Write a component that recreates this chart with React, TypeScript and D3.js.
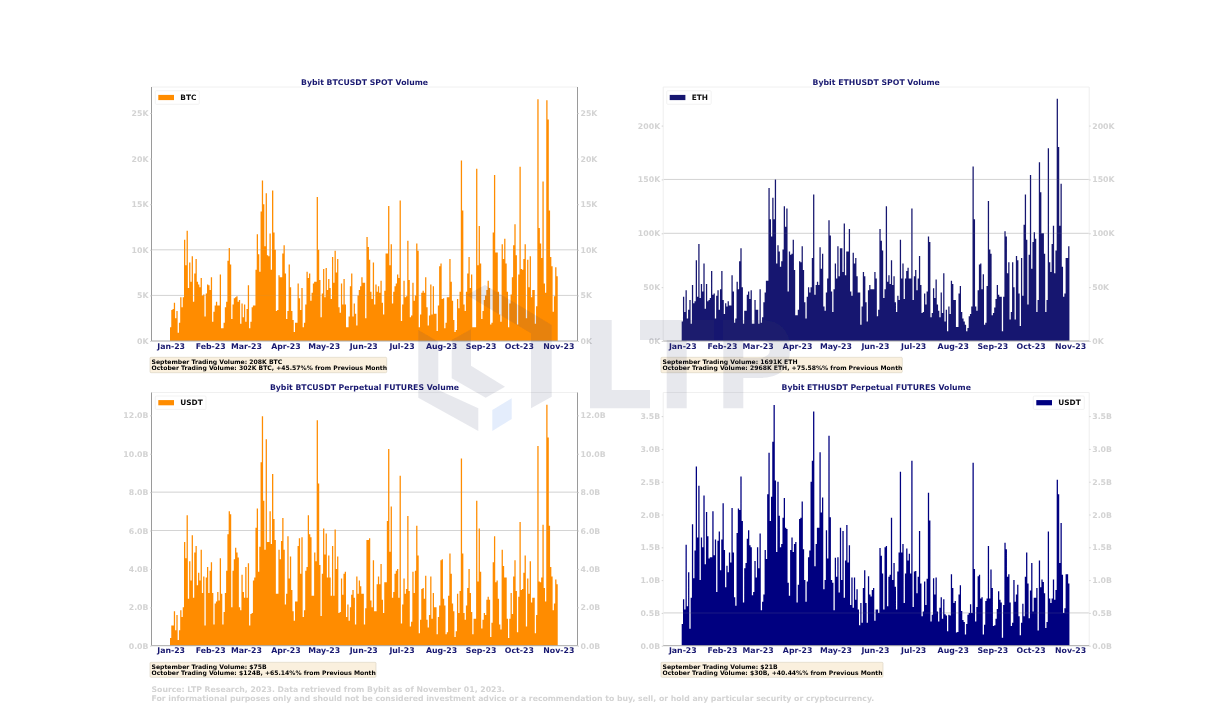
import React, { useEffect, useRef } from 'react';
import * as d3 from 'd3';

// daily volumes from 2023-01-01, ten days per row
const btcSpot = [
  1.5, 3.4, 3.5, 4.2, 2.5, 3.3, 0.9, 2.0, 4.8, 3.7,
  4.8, 11.1, 8.3, 12.1, 5.8, 8.6, 6.5, 9.3, 4.3, 7.4,
  9.0, 6.5, 6.2, 5.9, 6.9, 5.0, 5.1, 2.7, 5.2, 6.2,
  6.1, 5.6, 7.0, 2.1, 3.2, 3.9, 4.3, 3.9, 3.9, 7.3,
  1.4, 1.4, 2.0, 3.7, 4.3, 8.8, 10.2, 8.4, 2.4, 4.0,
  4.7, 4.8, 4.9, 4.3, 4.5, 1.9, 4.1, 2.6, 4.0, 2.1,
  3.5, 6.1, 1.4, 2.1, 3.7, 3.9, 3.9, 7.8, 11.7, 9.5,
  7.6, 14.2, 17.6, 15.0, 10.4, 16.2, 9.4, 9.3, 11.8, 7.8,
  16.5, 11.9, 10.0, 3.3, 3.4, 7.2, 7.0, 7.0, 9.6, 10.5,
  7.4, 2.4, 3.3, 8.4, 5.9, 3.3, 2.3, 1.0, 2.0, 2.0,
  6.3, 4.7, 3.4, 5.8, 1.5, 2.0, 4.0, 7.6, 6.9, 7.4,
  4.4, 5.3, 6.3, 6.5, 6.5, 15.8, 10.0, 6.7, 2.6, 5.2,
  7.9, 4.8, 8.0, 5.6, 6.8, 5.8, 4.6, 9.2, 6.4, 9.9,
  7.5, 9.0, 3.7, 3.1, 6.3, 4.0, 6.8, 4.0, 1.5, 1.5,
  2.7, 6.0, 7.4, 2.7, 4.1, 3.0, 1.7, 5.0, 5.6, 6.0,
  7.0, 6.4, 6.4, 2.5, 11.4, 10.3, 8.9, 5.4, 4.6, 8.6,
  4.0, 6.2, 5.4, 6.0, 5.3, 6.6, 4.2, 2.9, 5.5, 9.6,
  9.6, 14.8, 8.3, 10.6, 4.1, 5.4, 6.0, 6.3, 7.3, 6.9,
  15.4, 2.2, 4.0, 6.6, 4.8, 4.9, 11.0, 6.7, 2.6, 2.8,
  6.4, 4.4, 5.0, 10.7, 9.9, 1.5, 2.9, 5.3, 5.5, 5.3,
  7.0, 3.7, 1.7, 2.8, 6.2, 2.9, 6.0, 3.0, 3.0, 1.1,
  3.9, 8.2, 8.5, 4.6, 4.7, 1.4, 2.0, 4.8, 4.8, 9.0,
  6.5, 4.4, 2.3, 1.0, 1.2, 4.6, 3.6, 5.4, 19.8, 14.3,
  4.0, 3.3, 5.4, 7.4, 9.2, 5.8, 7.3, 1.5, 1.5, 1.5,
  18.9, 8.3, 12.6, 8.5, 2.4, 3.3, 4.5, 5.0, 5.6, 6.6,
  5.8, 1.8, 2.0, 11.9, 18.2, 9.7, 9.7, 5.4, 2.9, 2.1,
  10.6, 9.0, 11.2, 8.5, 5.4, 1.5, 4.1, 5.1, 7.0, 10.5,
  12.8, 9.4, 1.8, 7.3, 19.1, 7.9, 7.8, 9.0, 10.6, 2.5,
  8.9, 5.9, 9.3, 4.8, 5.6, 5.6, 1.9, 3.8, 26.5, 12.4,
  10.7, 9.1, 17.5, 6.3, 5.3, 26.4, 24.3, 14.3, 9.2, 8.2,
  3.2, 4.9, 8.1, 7.1,
];

const ethSpot = [
  18, 41, 27, 47, 21, 29, 38, 16, 52, 35,
  37, 75, 41, 90, 40, 53, 46, 72, 30, 53,
  37, 38, 40, 65, 43, 44, 21, 42, 47, 29,
  48, 65, 38, 25, 35, 32, 37, 33, 33, 61,
  46, 17, 21, 55, 48, 74, 86, 50, 16, 28,
  28, 43, 46, 39, 47, 16, 16, 38, 29, 29,
  16, 48, 17, 22, 36, 45, 56, 56, 142, 113,
  97, 133, 113, 150, 72, 89, 83, 69, 74, 85,
  125, 106, 123, 46, 83, 80, 81, 94, 66, 24,
  24, 29, 74, 73, 88, 66, 36, 21, 41, 50,
  45, 50, 77, 136, 43, 52, 55, 52, 87, 67,
  81, 32, 28, 45, 58, 112, 98, 46, 27, 48,
  72, 58, 88, 60, 86, 86, 64, 109, 61, 83,
  83, 104, 46, 42, 82, 72, 77, 60, 45, 45,
  15, 32, 64, 60, 36, 18, 47, 52, 48, 48,
  48, 64, 58, 23, 29, 104, 93, 84, 40, 48,
  125, 55, 61, 53, 75, 52, 60, 36, 27, 42,
  38, 94, 58, 72, 39, 58, 65, 68, 58, 58,
  123, 38, 60, 66, 47, 58, 79, 52, 26, 27,
  44, 34, 46, 97, 92, 22, 26, 49, 40, 57,
  34, 28, 22, 45, 26, 63, 18, 29, 9, 32,
  25, 56, 53, 38, 38, 13, 13, 44, 51, 27,
  21, 18, 15, 9, 12, 23, 25, 32, 162, 113,
  32, 28, 47, 71, 72, 48, 62, 15, 17, 51,
  130, 85, 81, 24, 26, 31, 39, 52, 43, 41,
  41, 9, 41, 102, 97, 63, 73, 20, 27, 73,
  50, 20, 79, 75, 44, 14, 77, 42, 108, 136,
  94, 34, 80, 154, 67, 92, 101, 95, 27, 38,
  166, 138, 100, 100, 81, 27, 38, 179, 73, 64,
  90, 107, 63, 84, 225, 180, 107, 146, 69, 41,
  44, 77, 77, 88,
];

const btcFutures = [
  0.4, 1.05, 1.05, 1.8, 0.8, 1.6, 0.3, 0.8, 1.85, 1.5,
  2.0, 5.4, 4.55, 6.8, 2.45, 4.4, 3.4, 5.75, 2.5, 4.85,
  5.2, 3.15, 3.8, 3.4, 5.0, 2.75, 3.6, 1.05, 3.55, 4.1,
  2.75, 3.9, 4.35, 2.75, 1.1, 2.2, 2.3, 2.8, 2.35, 4.55,
  2.7, 1.1, 1.75, 2.75, 3.9, 5.8, 7.0, 6.85, 2.0, 3.9,
  4.5, 5.1, 4.85, 4.6, 2.0, 1.85, 3.7, 2.8, 2.5, 4.1,
  2.5, 4.3, 1.05, 1.65, 1.7, 3.4, 3.55, 6.15, 7.15, 3.85,
  5.15, 9.55, 11.95, 7.55, 5.0, 10.75, 5.4, 5.4, 7.0, 5.3,
  8.95, 6.6, 5.5, 2.7, 2.7, 5.0, 4.5, 5.45, 6.65, 5.0,
  2.15, 2.7, 5.7, 3.5, 4.65, 2.9, 1.8, 1.3, 2.3, 2.3,
  5.2, 5.6, 3.75, 5.65, 1.5, 1.85, 3.9, 4.1, 6.8, 5.8,
  5.65, 2.6, 2.6, 4.85, 4.4, 11.75, 8.45, 4.2, 1.55, 3.75,
  6.1, 4.75, 5.85, 3.55, 4.7, 3.55, 2.6, 5.2, 2.6, 6.05,
  4.0, 4.65, 1.7, 1.75, 3.5, 2.65, 3.75, 3.85, 1.5, 2.15,
  1.3, 2.0, 2.65, 2.9, 2.5, 1.1, 3.6, 2.7, 3.4, 3.1,
  2.7, 2.7, 1.1, 1.95, 5.5, 5.5, 5.6, 2.35, 2.0, 4.45,
  1.8, 1.8, 3.2, 3.6, 3.2, 4.25, 2.4, 1.7, 3.3, 3.3,
  6.5, 10.25, 4.9, 7.25, 2.5, 2.8, 3.75, 3.9, 4.0, 2.5,
  8.85, 1.15, 2.15, 3.5, 2.7, 2.95, 6.75, 2.85, 1.0, 1.25,
  3.85, 2.75, 3.9, 6.25, 4.7, 0.65, 1.35, 2.95, 3.0, 2.45,
  3.65, 1.35, 0.95, 1.6, 3.6, 1.4, 2.75, 2.0, 2.0, 0.6,
  1.5, 2.1, 4.45, 4.5, 2.45, 2.1, 0.6, 0.7, 2.6, 4.8,
  3.75, 2.2, 1.8, 0.45, 0.75, 2.7, 1.7, 2.85, 9.75, 4.8,
  1.7, 1.35, 2.1, 3.0, 4.0, 2.75, 1.75, 0.6, 1.4, 1.4,
  7.55, 3.35, 6.1, 3.85, 0.9, 1.35, 1.7, 1.6, 2.4, 2.55,
  2.4, 0.45, 1.2, 4.35, 5.7, 3.3, 3.4, 2.45, 1.1, 0.85,
  5.0, 4.15, 3.55, 3.55, 1.4, 0.4, 1.4, 2.75, 1.65, 3.6,
  4.45, 2.85, 0.7, 2.55, 6.45, 2.9, 2.95, 3.8, 4.7, 1.0,
  3.5, 2.7, 4.4, 2.25, 2.5, 2.5, 0.65, 1.6, 10.4, 3.35,
  3.3, 3.55, 6.3, 3.0, 2.3, 12.55, 10.85, 6.25, 4.1, 3.6,
  1.85, 2.2, 3.45, 3.2,
];

const ethFutures = [
  0.33, 0.71, 0.55, 1.54, 0.6, 1.12, 0.26, 0.73, 1.85, 1.03,
  1.45, 2.73, 1.65, 2.44, 1.0, 1.65, 1.5, 2.29, 1.24, 2.04,
  1.67, 1.33, 1.35, 1.35, 2.05, 1.38, 1.62, 0.82, 1.6, 1.74,
  1.15, 1.62, 2.17, 1.46, 0.89, 1.22, 1.12, 1.42, 1.27, 2.1,
  1.42, 0.74, 0.61, 1.72, 2.09, 2.07, 2.58, 1.9, 0.66, 1.18,
  1.26, 1.63, 1.76, 1.53, 1.5, 0.77, 0.82, 1.29, 1.04, 1.5,
  1.18, 1.71, 0.54, 0.67, 0.78, 1.46, 1.32, 2.31, 2.94, 1.9,
  2.27, 3.11, 3.67, 2.52, 1.43, 2.5, 1.98, 1.5, 1.55, 1.95,
  2.25, 1.8, 1.78, 0.96, 0.76, 1.46, 1.65, 1.43, 1.55, 1.58,
  0.66, 0.93, 1.93, 1.95, 2.2, 1.47, 1.0, 0.67, 0.98, 1.35,
  1.45, 2.5, 2.82, 3.57, 1.21, 1.55, 1.8, 1.8, 2.95, 2.03,
  2.26, 0.86, 1.0, 1.76, 1.33, 3.2, 1.96, 1.0, 0.96, 0.54,
  1.34, 1.05, 1.35, 0.81, 1.8, 1.0, 1.75, 0.73, 1.3, 1.84,
  1.27, 1.53, 0.62, 1.04, 0.58, 1.04, 0.7, 0.86, 0.55, 0.31,
  0.65, 0.35, 0.88, 1.15, 0.65, 0.35, 1.06, 0.78, 0.75, 0.85,
  0.88, 0.38, 0.55, 0.55, 0.5, 1.49, 1.37, 1.1, 0.55, 1.5,
  1.52, 0.6, 1.05, 1.08, 1.95, 1.0, 1.26, 0.9, 0.55, 1.13,
  1.42, 2.65, 1.42, 1.55, 0.65, 1.1, 1.48, 1.3, 1.4, 1.1,
  2.82, 0.59, 1.13, 1.14, 0.8, 1.05, 1.75, 0.95, 0.45, 0.52,
  0.98, 0.62, 1.02, 2.33, 1.91, 0.37, 0.47, 1.03, 0.78, 1.04,
  0.52, 0.37, 0.58, 0.74, 0.41, 0.71, 0.48, 0.46, 0.22, 0.47,
  0.46, 1.09, 0.88, 0.65, 0.68, 0.2, 0.21, 0.78, 0.92, 0.53,
  0.39, 0.36, 0.17, 0.33, 0.47, 0.5, 0.63, 0.5, 2.79, 1.17,
  0.37, 0.59, 1.06, 1.08, 0.72, 0.74, 0.17, 0.32, 0.68, 0.72,
  1.52, 0.72, 1.16, 0.88, 0.3, 0.31, 0.41, 0.56, 0.83, 0.7,
  0.66, 0.12, 0.62, 1.57, 1.47, 1.05, 1.09, 0.66, 0.3, 0.35,
  1.0, 0.67, 0.78, 0.93, 0.45, 0.16, 0.35, 0.64, 0.45, 1.05,
  1.42, 0.95, 0.42, 0.84, 1.26, 0.52, 0.73, 0.73, 0.88, 0.23,
  1.3, 0.89, 1.01, 0.97, 0.8, 0.27, 0.36, 1.74, 0.72, 0.65,
  0.72, 1.01, 0.7, 0.85, 2.53, 2.31, 1.26, 1.87, 1.08, 0.5,
  0.57, 1.09, 1.09, 0.95,
];

const btcSpotTicks = [0, 5, 10, 15, 20, 25];
const ethSpotTicks = [0, 50, 100, 150, 200];
const btcFuturesTicks = [0, 2, 4, 6, 8, 10, 12];
const ethFuturesTicks = [0, 0.5, 1, 1.5, 2, 2.5, 3, 3.5];

const sourceLines = [
  'Source: LTP Research, 2023. Data retrieved from Bybit as of November 01, 2023.',
  'For informational purposes only and should not be considered investment advice or a recommendation to buy, sell, or hold any particular security or cryptocurrency.',
];

const FONT = '"DejaVu Sans", sans-serif';
const firstDay = new Date(2023, 0, 1);

const panels = [
  {
    title: 'Bybit BTCUSDT SPOT Volume', values: btcSpot, ticks: btcSpotTicks, grid: [5, 10],
    fmt: (v: number) => `${v}K`, color: '#ff8c00', legend: 'BTC',
    left: 151.5, top: 87, bottom: 341, yMax: 27.85, spine: '#9a9a9a',
    legendBox: [155.3, 90.7, 44, 13.6],
    noteBox: [150, 357.3, 236.7, 15.4],
    notes: ['September Trading Volume: 208K BTC', 'October Trading Volume: 302K BTC, +45.57%% from Previous Month'],
  },
  {
    title: 'Bybit ETHUSDT SPOT Volume', values: ethSpot, ticks: ethSpotTicks, grid: [100, 150],
    fmt: (v: number) => `${v}K`, color: '#191970', legend: 'ETH',
    left: 663.2, top: 87, bottom: 341, yMax: 235.8, spine: '#eeeeee',
    legendBox: [666.7, 90.7, 44.5, 13.6],
    noteBox: [661, 357.3, 241.3, 15.4],
    notes: ['September Trading Volume: 1691K ETH', 'October Trading Volume: 2968K ETH, +75.58%% from Previous Month'],
  },
  {
    title: 'Bybit BTCUSDT Perpetual FUTURES Volume', values: btcFutures, ticks: btcFuturesTicks, grid: [6, 8],
    fmt: (v: number) => `${v.toFixed(1)}B`, color: '#ff8c00', legend: 'USDT',
    left: 151.5, top: 392.5, bottom: 645.7, yMax: 13.19, spine: '#9a9a9a',
    legendBox: [155.3, 396, 50.7, 13.4],
    noteBox: [150, 662.3, 226, 15],
    notes: ['September Trading Volume: $75B', 'October Trading Volume: $124B, +65.14%% from Previous Month'],
  },
  {
    title: 'Bybit ETHUSDT Perpetual FUTURES Volume', values: ethFutures, ticks: ethFuturesTicks, grid: [0.5],
    fmt: (v: number) => `${v.toFixed(1)}B`, color: '#000080', legend: 'USDT',
    left: 663.2, top: 392.5, bottom: 645.7, yMax: 3.86, spine: '#eeeeee',
    legendBox: [1033.3, 396, 51, 13.4],
    noteBox: [661, 662.3, 222, 15],
    notes: ['September Trading Volume: $21B', 'October Trading Volume: $30B, +40.44%% from Previous Month'],
  },
];

// logo and wordmark laid over the finished charts
const logoShapes = [
  'M418.3,330 L438.3,341.7 L438.3,390 L478.3,408.3 L478.3,431 L418.3,397.7 Z',
  'M451.7,340 L471,329.3 L471,365.7 L505,386.7 L485.7,397.7 L451.7,378.3 Z',
  'M466.7,295 L485,285 L551.7,325 L551.7,396.7 L531,408.3 L531,333.3 Z',
  'M590,320 H611.7 V390 H650 V408.3 H590 Z',
  'M640,320 H714 V340 H686.7 V408.3 H666.7 V340 H640 Z',
  'M723.3,320 H760 Q790,320 790,349 Q790,378 760,378 H743.3 V408.3 H723.3 Z M743.3,340 V358 H758 Q770,358 770,349 Q770,340 758,340 Z',
];
const logoAccent = 'M492.3,410 L511.7,398.3 L511.7,419 L492.3,431 Z';

export default function App() {
  const svgRef = useRef<SVGSVGElement>(null);

  useEffect(() => {
    if (!svgRef.current) return;
    const root = d3.select(svgRef.current);
    root.selectAll('*').remove();
    const width = 426;

    // the source picture is a soft, resampled screenshot
    root.append('defs').append('filter')
      .attr('id', 'soft')
      .attr('x', 0).attr('y', 0).attr('width', 1).attr('height', 1)
      .append('feGaussianBlur')
      .attr('stdDeviation', 0.38);
    const svg = root.append('g').attr('filter', 'url(#soft)');
    svg.append('rect').attr('width', 1209).attr('height', 725).attr('fill', '#fff');

    panels.forEach(p => {
      const right = p.left + width;
      const x = d3.scaleTime()
        .domain([new Date(2022, 11, 17), new Date(2023, 10, 16)])
        .range([p.left, right]);
      const y = d3.scaleLinear().domain([0, p.yMax]).range([p.bottom, p.top]);
      const g = svg.append('g');

      g.selectAll('line.grid')
        .data(p.grid)
        .enter()
        .append('line')
        .attr('x1', p.left).attr('x2', right)
        .attr('y1', d => y(d)).attr('y2', d => y(d))
        .attr('stroke', '#dcdcdc');

      // one path so neighbouring days do not leave seams
      const dayWidth = x(d3.timeDay.offset(firstDay, 1)) - x(firstDay);
      const bars = d3.path();
      p.values.forEach((v, i) => {
        const px = x(d3.timeDay.offset(firstDay, i));
        bars.rect(px - dayWidth / 2, y(v), dayWidth, y(0) - y(v));
      });
      g.append('path').attr('d', bars.toString()).attr('fill', p.color);

      g.selectAll('line.over')
        .data(p.grid)
        .enter()
        .append('line')
        .attr('x1', p.left).attr('x2', right)
        .attr('y1', d => y(d)).attr('y2', d => y(d))
        .attr('stroke', '#999999').attr('stroke-opacity', 0.12);

      // spines
      g.append('line').attr('x1', p.left).attr('x2', right).attr('y1', p.top).attr('y2', p.top).attr('stroke', '#f0f0f0');
      g.append('line').attr('x1', p.left).attr('x2', p.left).attr('y1', p.top).attr('y2', p.bottom).attr('stroke', p.spine);
      g.append('line').attr('x1', right).attr('x2', right).attr('y1', p.top).attr('y2', p.bottom).attr('stroke', p.spine);
      g.append('line').attr('x1', p.left).attr('x2', right).attr('y1', p.bottom).attr('y2', p.bottom).attr('stroke', '#a8a8a8');

      const styleAxis = (a: any, color: string, size: number) => {
        a.select('.domain').remove();
        a.selectAll('line').attr('stroke', '#d3d3d3');
        a.selectAll('text')
          .attr('fill', color)
          .style('font-family', FONT)
          .style('font-weight', 'bold')
          .style('font-size', `${size}px`);
      };

      const leftAxis = g.append('g').attr('transform', `translate(${p.left},0)`)
        .call(d3.axisLeft(y).tickValues(p.ticks).tickSize(1.5).tickPadding(1.5).tickFormat(p.fmt as any));
      styleAxis(leftAxis, '#d3d3d3', 7.8);
      const rightAxis = g.append('g').attr('transform', `translate(${right},0)`)
        .call(d3.axisRight(y).tickValues(p.ticks).tickSize(1.5).tickPadding(1.5).tickFormat(p.fmt as any));
      styleAxis(rightAxis, '#d3d3d3', 7.8);

      const months = d3.timeMonth.range(firstDay, new Date(2023, 10, 2));
      const bottomAxis = g.append('g').attr('transform', `translate(0,${p.bottom})`)
        .call(d3.axisBottom(x).tickValues(months).tickSize(0).tickPadding(2).tickFormat(d3.timeFormat('%b-%y') as any));
      styleAxis(bottomAxis, '#191970', 7.8);

      g.append('text')
        .attr('x', p.left + width / 2)
        .attr('y', p.top - 2.5)
        .attr('text-anchor', 'middle')
        .attr('fill', '#191970')
        .style('font-family', FONT)
        .style('font-weight', 'bold')
        .style('font-size', '7.75px')
        .text(p.title);

      // legend
      const [lx, ly, lw, lh] = p.legendBox;
      g.append('rect').attr('x', lx).attr('y', ly).attr('width', lw).attr('height', lh).attr('rx', 1)
        .attr('fill', '#fff').attr('stroke', '#eeeeee').attr('stroke-width', 0.7);
      g.append('rect').attr('x', lx + 3).attr('y', ly + lh / 2 - 2.6).attr('width', 15.7).attr('height', 5.2).attr('fill', p.color);
      g.append('text').attr('x', lx + 25).attr('y', ly + lh / 2 + 2.5).attr('fill', '#111')
        .style('font-family', FONT).style('font-weight', 'bold').style('font-size', '7.4px').text(p.legend);

      // monthly volume note
      const [nx, ny, nw, nh] = p.noteBox;
      g.append('rect').attr('x', nx).attr('y', ny).attr('width', nw).attr('height', nh).attr('rx', 1)
        .attr('fill', '#faf0de').attr('stroke', '#d9d2c0').attr('stroke-width', 0.6);
      p.notes.forEach((t, i) => {
        g.append('text').attr('x', nx + 1.5).attr('y', ny + 6.2 + i * 6.5).attr('fill', '#000')
          .style('font-family', FONT).style('font-weight', 'bold').style('font-size', '6.1px').text(t);
      });
    });

    svg.selectAll('text.source')
      .data(sourceLines)
      .enter()
      .append('text')
      .attr('class', 'source')
      .attr('x', 151.5)
      .attr('y', (d, i) => 692 + i * 8.7)
      .attr('fill', '#d3d3d3')
      .style('font-family', FONT)
      .style('font-weight', 'bold')
      .style('font-size', '7.74px')
      .text(d => d);

    const logo = svg.append('g');
    logoShapes.forEach(d => {
      logo.append('path').attr('d', d).attr('fill', '#2e3560').attr('fill-opacity', 0.115).attr('fill-rule', 'evenodd');
    });
    logo.append('path').attr('d', logoAccent).attr('fill', '#c4d8f8').attr('fill-opacity', 0.45);
  }, []);

  return (
    <svg
      ref={svgRef}
      width={1209}
      height={725}
      style={{ position: 'absolute', left: 0, top: 0, background: '#fff' }}
    />
  );
}
